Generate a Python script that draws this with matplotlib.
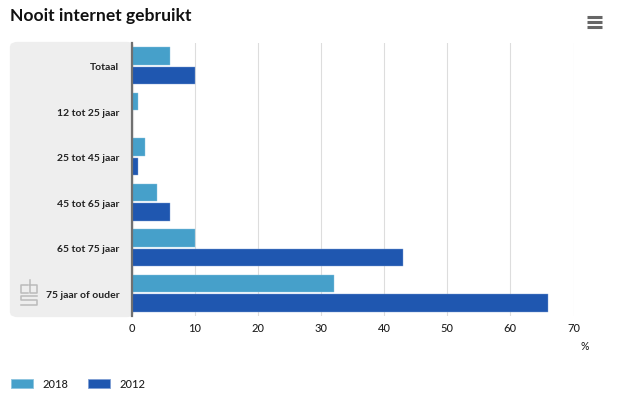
import matplotlib
matplotlib.use('Agg')
import matplotlib.pyplot as plt
import numpy as np
from matplotlib.lines import Line2D
from matplotlib.patches import FancyBboxPatch, Rectangle
from matplotlib.transforms import ScaledTranslation

categories = ['Totaal', '12 tot 25 jaar', '25 tot 45 jaar', '45 tot 65 jaar', '65 tot 75 jaar', '75 jaar of ouder']
values_2018 = [6, 1, 2, 4, 10, 32]
values_2012 = [10, 0, 1, 6, 43, 66]
xticks = [0, 10, 20, 30, 40, 50, 60, 70]

W, H = 630, 405
plt.rcParams['font.family'] = ['Lato', 'DejaVu Sans']
text_col = '#222222'


def fx(px):
    return px / W


def fy(py):
    return 1 - py / H


fig = plt.figure(figsize=(6.3, 4.05), dpi=100)

# grey panel behind the labels
panel = FancyBboxPatch((fx(14), fy(313)), fx(130 - 14), fy(46) - fy(313),
                       boxstyle='round,pad=0,rounding_size=0.006', transform=fig.transFigure,
                       facecolor='#eeeeee', edgecolor='#eeeeee', linewidth=6, zorder=0,
                       mutation_aspect=H / W)
fig.add_artist(panel)
fig.add_artist(Rectangle((fx(120), fy(316)), fx(12), fy(43) - fy(316), transform=fig.transFigure,
                         facecolor='#eeeeee', edgecolor='none', zorder=0))

ax = fig.add_axes([fx(132), fy(316), fx(573.5 - 132), fy(43) - fy(316)])
ax.patch.set_alpha(0)
y = np.arange(len(categories))
ax.barh(y - 0.215, values_2018, height=0.39, color='#46a0ca', edgecolor='#8cc4df', linewidth=0.3, zorder=3)
ax.barh(y + 0.215, values_2012, height=0.39, color='#1f57b0', edgecolor='#7f9fd4', linewidth=0.3, zorder=3)

ax.set_xlim(0, 70)
ax.set_ylim(len(categories) - 0.5, -0.5)
ax.set_xticks(xticks)
ax.set_yticks(y)
ax.set_yticklabels(categories)
ax.xaxis.grid(True, color='#dddddd', linewidth=0.8)
ax.set_axisbelow(True)
for s in ['top', 'right', 'bottom']:
    ax.spines[s].set_visible(False)
ax.spines['left'].set_color('#707070')
ax.spines['left'].set_linewidth(1.6)
ax.spines['left'].set_zorder(5)
ax.tick_params(axis='y', length=0, pad=9, labelsize=7.5, labelcolor=text_col)
ax.tick_params(axis='x', length=0, pad=5, labelsize=8, labelcolor=text_col)
shift = ScaledTranslation(0, -1 / 100, fig.dpi_scale_trans)
for lab in ax.get_yticklabels():
    lab.set_fontweight('bold')
    lab.set_transform(lab.get_transform() + shift)
for lab in ax.get_xticklabels():
    lab.set_fontweight('medium')

fig.text(fx(10), fy(16), 'Nooit internet gebruikt', fontsize=12.6, fontweight='bold', color='#111111', va='center')
fig.text(fx(585), fy(347), '%', fontsize=7.6, fontweight='medium', color=text_col, ha='center', va='center')

# menu icon
for py in [17, 22, 27]:
    fig.add_artist(Line2D([fx(587), fx(602)], [fy(py), fy(py)], color='#666666', linewidth=2.2, solid_capstyle='butt'))

# cbs logo
logo = [
    [(28, 285), (21, 285), (21, 293), (28, 293)],
    [(30, 280), (30, 293), (37, 293), (37, 285), (30, 285)],
    [(37, 296), (21, 296), (21, 300), (37, 300), (37, 305), (21, 305)],
]
for seg in logo:
    xs = [fx(p[0]) for p in seg]
    ys = [fy(p[1]) for p in seg]
    fig.add_artist(Line2D(xs, ys, color='#bbbbbb', linewidth=1.1))

# legend
for px, col, edge, lab in [(11, '#46a0ca', '#8cc4df', '2018'), (88, '#1f57b0', '#7f9fd4', '2012')]:
    fig.add_artist(Rectangle((fx(px), fy(388)), fx(22), fy(379) - fy(388), transform=fig.transFigure,
                             facecolor=col, edgecolor=edge, linewidth=0.6))
    fig.text(fx(px + 31), fy(384), lab, fontsize=8, fontweight='medium', color=text_col, va='center')

fig.savefig('out.png', dpi=100)
